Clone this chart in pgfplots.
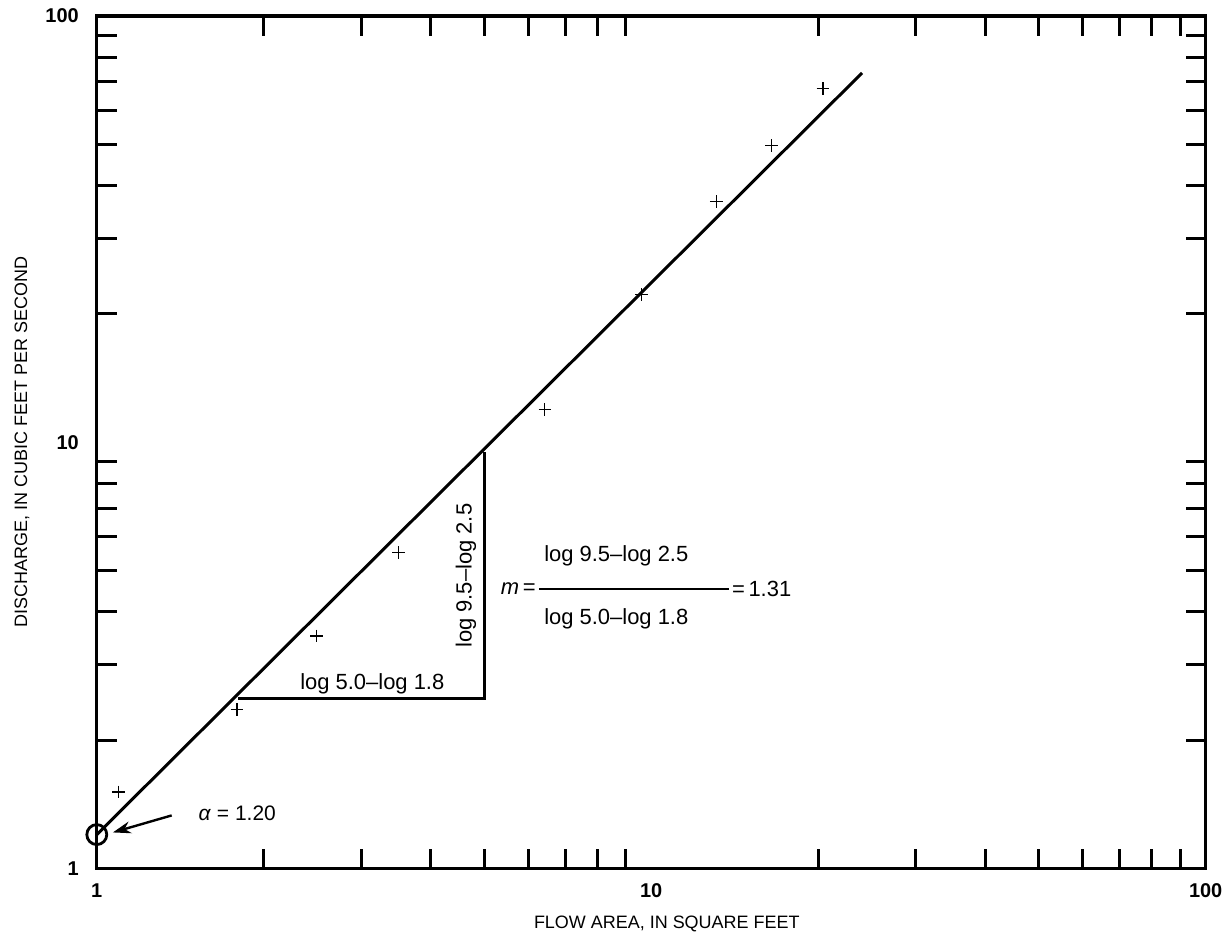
\documentclass[border=0pt]{standalone}
\usepackage{fontspec}
\setmainfont{Liberation Sans}
\usepackage{pgfplots}
\pgfplotsset{compat=1.18}
\usetikzlibrary{arrows.meta}
\begin{document}
\begin{tikzpicture}
\begin{axis}[
  xmode=log, ymode=log,
  scale only axis,
  width=555.5pt, height=427pt,
  xmin=1, xmax=100, ymin=1, ymax=100,
  xtick={1,10,100}, ytick={1,10,100},
  xticklabels={1,10,100}, yticklabels={1,10,100},
  minor xtick={2,3,4,5,6,7,8,9,20,30,40,50,60,70,80,90},
  minor ytick={2,3,4,5,6,7,8,9,20,30,40,50,60,70,80,90},
  major tick length=0pt,
  minor tick length=10pt,
  tick align=inside,
  tick pos=both,
  axis line style={line width=1.6pt},
  every tick/.style={line width=1.5pt, black},
  /pgf/number format/assume math mode=true,
  ticklabel style={font=\fontsize{10}{12}\selectfont\bfseries},
  xticklabel style={yshift=-4pt},
  yticklabel style={xshift=-5.5pt},
  xlabel={FLOW AREA, IN SQUARE FEET},
  ylabel={DISCHARGE, IN CUBIC FEET PER SECOND},
  label style={font=\fontsize{9}{11}\selectfont, inner sep=0pt},
  xlabel style={at={(rel axis cs:0.514,-0.0656)}, anchor=center},
  ylabel style={at={(rel axis cs:-0.0675,0.5)}, anchor=center},
  clip=false,
]
% invisible frame for the reference proportions
\path (rel axis cs:-0.0873,-0.0738) rectangle (rel axis cs:1.0189,1.0187);
% observed points
\addplot[only marks, mark=+, mark size=3.2pt, line width=0.6pt] coordinates {
(1.096,1.51) (1.79,2.36) (2.49,3.51) (3.50,5.50) (6.43,11.95)
(9.61,22.2) (13.1,36.7) (16.5,49.6) (20.4,67.5)};
% fitted line
\addplot[no marks, line width=1.5pt] coordinates {(1,1.2) (24.0,73.5)};
% slope triangle
\addplot[no marks, line width=1.5pt] coordinates {(1.8,2.5) (5.0,2.5) (5.0,9.5)};
% intercept circle
\addplot[only marks, mark=o, mark size=5pt, line width=1.4pt] coordinates {(1,1.2)};
\draw[-{Stealth[length=9pt,width=6pt]}, line width=1.2pt] (axis cs:1.365,1.331) -- (axis cs:1.069,1.214);
\node[anchor=west, font=\fontsize{10.5}{12}\selectfont] at (axis cs:1.483,1.345) {\textit{α} = 1.20};
\node[font=\fontsize{11}{13}\selectfont] at (axis cs:3.14,2.71) {log 5.0--log 1.8};
\node[rotate=90, font=\fontsize{11}{13}\selectfont] at (axis cs:4.63,4.86) {log 9.5--log 2.5};
\node[anchor=east, font=\fontsize{11}{13}\selectfont, inner sep=1pt] at (axis cs:6.25,4.53) {\textit{m}\,=};
\draw[line width=0.9pt] (axis cs:6.27,4.53) -- (axis cs:13.79,4.53);
\node[anchor=west, font=\fontsize{11}{13}\selectfont, inner sep=1pt] at (axis cs:13.85,4.53) {=\,1.31};
\node[font=\fontsize{11}{13}\selectfont] at (axis cs:8.65,5.41) {log 9.5--log 2.5};
\node[font=\fontsize{11}{13}\selectfont] at (axis cs:8.65,3.85) {log 5.0--log 1.8};
\end{axis}
\end{tikzpicture}
\end{document}
